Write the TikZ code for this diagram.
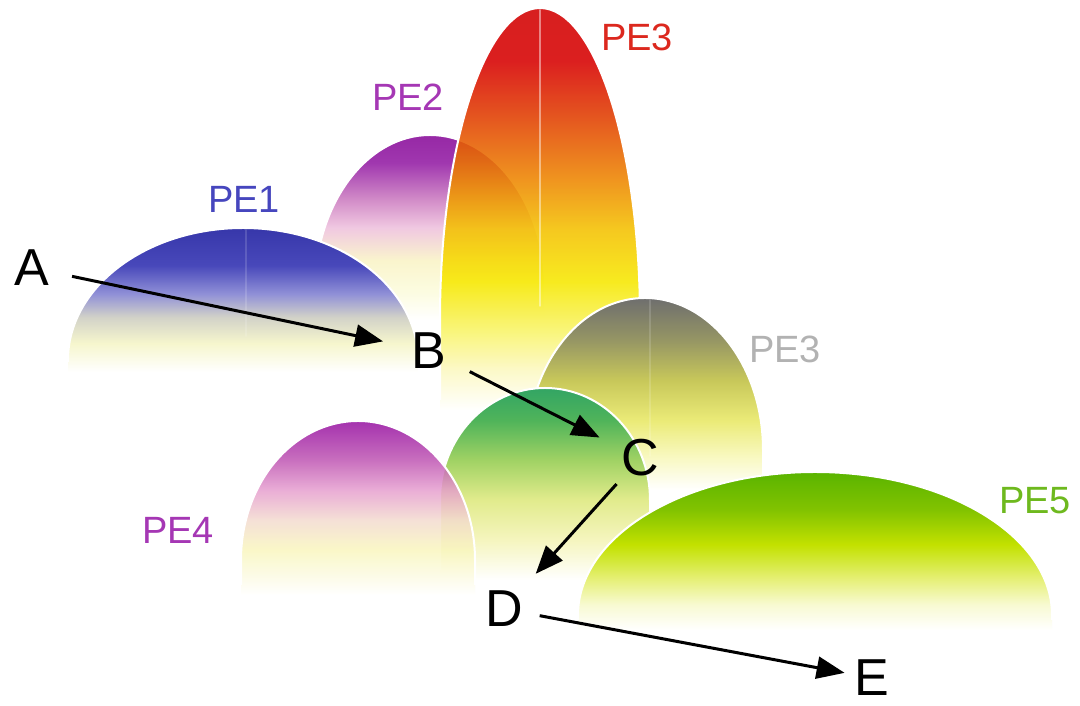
\documentclass[tikz,border=0pt]{standalone}
\usepackage{fontspec}
\setmainfont{Liberation Sans}
\usetikzlibrary{arrows.meta}

% ---- colours of the hills (top to bottom) ----
\definecolor{pea}{RGB}{55,55,170}
\definecolor{peb}{RGB}{72,72,186}
\definecolor{pec}{RGB}{145,145,215}
\definecolor{ped}{RGB}{210,210,200}
\definecolor{pee}{RGB}{246,246,205}

\definecolor{pba}{RGB}{150,40,165}
\definecolor{pbb}{RGB}{160,55,175}
\definecolor{pbc}{RGB}{210,140,200}
\definecolor{pbd}{RGB}{240,200,225}
\definecolor{pbe}{RGB}{250,245,205}
\definecolor{pbf}{RGB}{252,252,225}

\definecolor{rda}{RGB}{210,0,0}
\definecolor{rdb}{RGB}{215,0,0}
\definecolor{rdc}{RGB}{226,67,0}
\definecolor{rdd}{RGB}{238,136,0}
\definecolor{rde}{RGB}{244,193,0}
\definecolor{rdf}{RGB}{247,232,0}
\definecolor{rdg}{RGB}{249,244,102}
\definecolor{rdh}{RGB}{252,249,193}

\definecolor{gya}{RGB}{110,110,110}
\definecolor{gyb}{RGB}{150,150,100}
\definecolor{gyc}{RGB}{200,200,90}
\definecolor{gyd}{RGB}{235,235,120}
\definecolor{gye}{RGB}{248,248,190}

\definecolor{gra}{RGB}{50,165,100}
\definecolor{grb}{RGB}{80,180,90}
\definecolor{grc}{RGB}{160,210,100}
\definecolor{grd}{RGB}{225,235,140}
\definecolor{gre}{RGB}{245,245,190}

\definecolor{pda}{RGB}{145,5,157}
\definecolor{pdb}{RGB}{188,78,176}
\definecolor{pdc}{RGB}{230,157,206}
\definecolor{pdd}{RGB}{243,218,206}
\definecolor{pde}{RGB}{249,246,188}

\definecolor{pfa}{RGB}{90,180,0}
\definecolor{pfb}{RGB}{130,195,0}
\definecolor{pfc}{RGB}{195,225,0}
\definecolor{pfd}{RGB}{230,240,120}
\definecolor{pfe}{RGB}{248,250,210}

% ---- label colours ----
\definecolor{lblblue}{RGB}{70,70,190}
\definecolor{lblpurple}{RGB}{165,55,180}
\definecolor{lblred}{RGB}{220,40,30}
\definecolor{lblgray}{RGB}{178,178,178}
\definecolor{lblgreen}{RGB}{110,185,30}

% ---- vertical shadings (path box spans 25bp..75bp) ----
\pgfdeclareverticalshading{shadeone}{100bp}{color(0bp)=(white); color(25bp)=(white);
  color(35bp)=(pee); color(44bp)=(ped); color(52bp)=(pec); color(62bp)=(peb);
  color(75bp)=(pea); color(100bp)=(pea)}
\pgfdeclareverticalshading{shadetwo}{100bp}{color(0bp)=(white); color(25bp)=(white);
  color(32.5bp)=(pbf); color(41bp)=(pbe); color(50bp)=(pbd); color(57.5bp)=(pbc);
  color(67.5bp)=(pbb); color(75bp)=(pba); color(100bp)=(pba)}
\pgfdeclareverticalshading{shadered}{100bp}{color(0bp)=(white); color(25bp)=(white);
  color(30bp)=(rdh); color(35bp)=(rdg); color(41bp)=(rdf); color(47.5bp)=(rde);
  color(53.5bp)=(rdd); color(61bp)=(rdc); color(68.5bp)=(rdb); color(75bp)=(rda);
  color(100bp)=(rda)}
\pgfdeclareverticalshading{shadegray}{100bp}{color(0bp)=(white); color(25bp)=(white);
  color(34bp)=(gye); color(43bp)=(gyd); color(53.5bp)=(gyc); color(64bp)=(gyb);
  color(75bp)=(gya); color(100bp)=(gya)}
\pgfdeclareverticalshading{shadegreen}{100bp}{color(0bp)=(white); color(25bp)=(white);
  color(35.5bp)=(gre); color(46bp)=(grd); color(56.25bp)=(grc); color(66.5bp)=(grb);
  color(75bp)=(gra); color(100bp)=(gra)}
\pgfdeclareverticalshading{shadefour}{100bp}{color(0bp)=(white); color(25bp)=(white);
  color(38bp)=(pde); color(46.5bp)=(pdd); color(55bp)=(pdc); color(64bp)=(pdb);
  color(75bp)=(pda); color(100bp)=(pda)}
\pgfdeclareverticalshading{shadefive}{100bp}{color(0bp)=(white); color(25bp)=(white);
  color(33bp)=(pfe); color(41bp)=(pfd); color(52bp)=(pfc); color(63bp)=(pfb);
  color(75bp)=(pfa); color(100bp)=(pfa)}

% hill: #1 shading, #2 centre x, #3 ellipse centre y, #4 x radius, #5 y radius,
% #6 base y, #7 fill opacity
\newcommand\drawhill[7]{%
  \shade[shading=#1, fill opacity=#7]
    (#2-#4,#6) -- (#2-#4,#3)
    arc[start angle=180, end angle=0, x radius=#4pt, y radius=#5pt]
    -- (#2+#4,#6) -- cycle;
  \draw[hilledge] (#2-#4,#6+10) -- (#2-#4,#3)
    arc[start angle=180, end angle=0, x radius=#4pt, y radius=#5pt]
    -- (#2+#4,#6+10);
}

\begin{document}
\begin{tikzpicture}[x=1pt, y=1pt,
  hilledge/.style={draw=white, line width=2pt},
  shine/.style={draw=white, line width=1.5pt, line cap=round},
  letter/.style={font=\fontsize{52}{60}\selectfont, inner sep=0pt, text=black},
  pelabel/.style={font=\fontsize{38}{44}\selectfont, inner sep=0pt},
  arr/.style={line width=3pt, -{Triangle[length=28pt, width=22pt]}}]

  \fill[white] (0,0) rectangle (1080,706);
  \useasboundingbox (0,0) rectangle (1080,706);

  % hills, back to front
  \drawhill{shadetwo}{430}{416}{115}{155}{386}{1}
  \drawhill{shadered}{540}{386}{100}{312}{296}{0.88}
  \draw[shine, opacity=0.45] (540,696) -- (540,400);
  \drawhill{shadeone}{243}{346}{175}{132}{334}{1}
  \draw[shine, opacity=0.15] (246,476) -- (246,370);
  \drawhill{shadegray}{645}{256}{118}{152}{216}{1}
  \draw[shine, opacity=0.15] (650,406) -- (650,250);
  \drawhill{shadegreen}{545}{206}{105}{112}{126}{1}
  \drawhill{shadefour}{358}{146}{117}{139}{111}{0.82}
  \drawhill{shadefive}{815}{91}{237}{143}{76}{1}

  % hill labels
  \node[pelabel, text=lblblue]   (pe1)  at (244,507) {PE1};
  \node[pelabel, text=lblpurple] (pe2)  at (408,609) {PE2};
  \node[pelabel, text=lblred]    (pe3)  at (637,669) {PE3};
  \node[pelabel, text=lblgray]   (pe3b) at (785,357) {PE3};
  \node[pelabel, text=lblpurple] (pe4)  at (178,176) {PE4};
  \node[pelabel, text=lblgreen]  (pe5)  at (1035,205) {PE5};

  % path letters
  \node[letter] (A) at (32,438) {A};
  \node[letter] (B) at (429,355) {B};
  \node[letter] (C) at (640,248) {C};
  \node[letter] (D) at (504,97) {D};
  \node[letter] (E) at (872,28) {E};

  % path arrows
  \draw[arr, shorten <=23pt, shorten >=29pt] (A) -- (B);
  \draw[arr, shorten <=26pt, shorten >=24pt] (B) -- (C);
  \draw[arr, shorten <=10pt, shorten >=23pt] (C) -- (D);
  \draw[arr, shorten <=17pt, shorten >=10pt] (D) -- (E);
\end{tikzpicture}
\end{document}
